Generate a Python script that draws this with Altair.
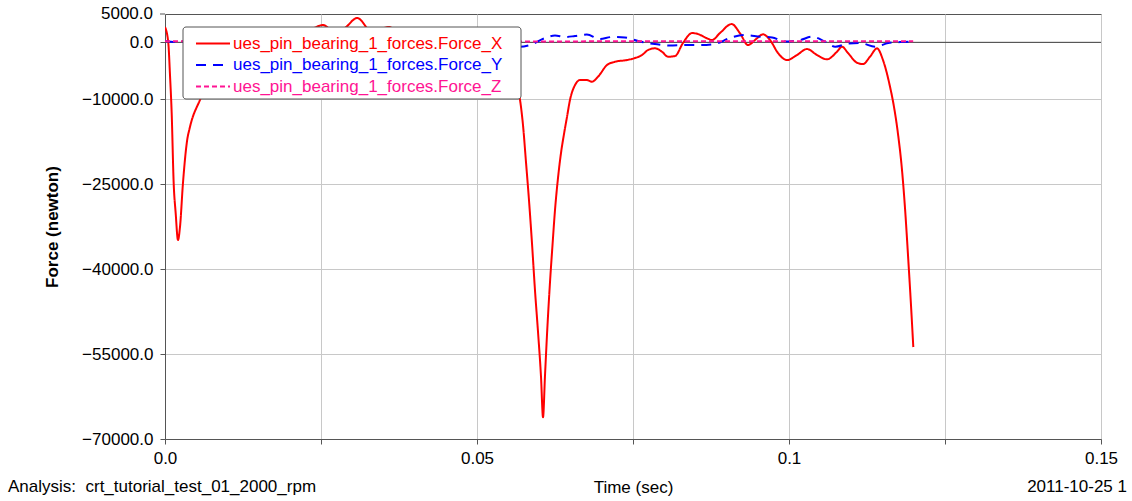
import altair as alt
import pandas as pd

# Pin bearing force components over time
SERIES = [
    "ues_pin_bearing_1_forces.Force_X",
    "ues_pin_bearing_1_forces.Force_Y",
    "ues_pin_bearing_1_forces.Force_Z",
]
COLORS = ["#FF0000", "#0000FF", "#FF1493"]
DASHES = [[1, 0], [10, 7], [5, 3]]

# Force_X: time (sec), force (newton)
fx_time = [
    0.0, 0.00053, 0.0008, 0.00107, 0.00139, 0.00171, 0.00208, 0.0024, 0.00288, 0.00353,
    0.0040, 0.0056, 0.008, 0.0112, 0.0152, 0.020, 0.0232, 0.0253, 0.0272, 0.0288,
    0.0308, 0.0332, 0.0359, 0.0385, 0.0417, 0.0449, 0.0489, 0.0521, 0.0545, 0.0561,
    0.0569, 0.05737, 0.05785, 0.05833, 0.05881, 0.05929, 0.05978, 0.06026, 0.06058,
    0.0609, 0.0613, 0.0617, 0.0621, 0.0625, 0.06298, 0.06346, 0.06394, 0.06442, 0.0649,
    0.06571, 0.06651, 0.06763, 0.06843, 0.06939, 0.07083, 0.07212, 0.07404, 0.07532, 0.07644,
    0.0774, 0.07853, 0.07965, 0.08061, 0.08173, 0.08301, 0.08446, 0.08542, 0.08686, 0.08766,
    0.08894, 0.09082, 0.09215, 0.09343, 0.09455, 0.09583, 0.09696, 0.09824, 0.09968, 0.10128,
    0.10288, 0.10449, 0.10609, 0.10769, 0.10849, 0.10946, 0.1109, 0.11186, 0.11298, 0.1141,
    0.11506, 0.11619, 0.11683, 0.11747, 0.11811, 0.11859, 0.11907, 0.11955, 0.11992,
]
fx_force = [
    2700, -120, -5770, -12480, -24830, -30130, -34890, -32600, -24830, -17420,
    -14950, -10180, -4890, -1360, 400, 1290, 2170, 3050, 1820, 2520,
    4290, 1820, 2700, 760, 2170, 400, 1640, 400, -2240, -6300,
    -10180, -14590, -21130, -27830, -35420, -43720, -51130, -59070, -66140,
    -58720, -49890, -42310, -35780, -29600, -23950, -19540, -16190, -13180, -10180,
    -7540, -6650, -6650, -6950, -6070, -4010, -3420, -3120, -2770, -2240,
    -1360, -1060, -1660, -2540, -2420, -120, 1640, 1460, 710, 410,
    1640, 3230, 1590, -480, 410, 1410, 410, -1890, -3130, -2240,
    -1180, -2240, -3000, -1660, -780, -1890, -3600, -3830, -2540, -1060,
    -3120, -7840, -11420, -16180, -22540, -29250, -37540, -46370, -53780,
]

# Force_Y
fy_time = [
    0.0, 0.0016, 0.005, 0.010, 0.015, 0.020, 0.025, 0.030, 0.035, 0.040,
    0.045, 0.050, 0.054, 0.0569, 0.0585, 0.0609, 0.0625, 0.0641, 0.0657, 0.0676,
    0.0697, 0.0716, 0.0737, 0.0761, 0.0785, 0.0809, 0.0833, 0.0857, 0.0881, 0.0905,
    0.0929, 0.0954, 0.0973, 0.0994, 0.1018, 0.1037, 0.1058, 0.1074, 0.1095, 0.1114,
    0.1138, 0.1159, 0.1178, 0.1199,
]
fy_force = [
    230, 50, 400, -300, 500, -200, 600, -400, 300, -500,
    400, -300, -700, -780, -480, 760, 1200, 940, 1110, 1380,
    580, 940, 850, 140, -300, -560, -480, -480, -300, 760,
    1290, 990, 850, 140, 410, 990, 110, -780, -210, -120,
    -780, -120, 50, 140,
]

# Force_Z
fz_time = [0.0, 0.02, 0.04, 0.06, 0.08, 0.10, 0.1199]
fz_force = [200, 150, 180, 160, 190, 170, 180]

# Axis ticks: every 7500 N, labelled every 15000 N plus zero
y_ticks = [-70000, -62500, -55000, -47500, -40000, -32500, -25000,
           -17500, -10000, -2500, 0, 5000]
y_top = 5000
x_ticks = [0.0, 0.025, 0.05, 0.075, 0.1, 0.125, 0.15]

FONT = "Liberation Sans"
FS = 17

frames = []
for name, t, f in [(SERIES[0], fx_time, fx_force),
                   (SERIES[1], fy_time, fy_force),
                   (SERIES[2], fz_time, fz_force)]:
    frames.append(pd.DataFrame({"series": name, "time": t, "force": f}))
df = pd.concat(frames, ignore_index=True)

x_enc = alt.X(
    "time:Q",
    scale=alt.Scale(domain=[0, 0.15], nice=False, zero=False),
    axis=alt.Axis(
        values=x_ticks,
        labelExpr="datum.value == 0 ? '0.0' : (abs(datum.value * 20 - round(datum.value * 20)) < 1e-6 ? format(datum.value, '~g') : '')",
        title="Time (sec)",
        titleY=48,
        titleBaseline="middle",
        labelPadding=6,
        labelOverlap=False,
        labelFlush=False,
    ),
)
y_enc = alt.Y(
    "force:Q",
    scale=alt.Scale(domain=[-70000, y_top], nice=False, zero=False),
    axis=alt.Axis(
        values=y_ticks,
        labelExpr="abs(datum.value) < 1 ? '0.0' : (abs((datum.value + 70000) % 15000) < 1 ? format(datum.value, '.1f') : '')",
        title="Force (newton)",
        titleFontWeight="bold",
        titleX=-113,
        titleY=212.5,
        titleAngle=270,
        titleBaseline="middle",
        titleAlign="center",
        labelPadding=7,
        labelOverlap=False,
        labelFlush=False,
        labelBound=False,
    ),
)

lines = alt.Chart(df).mark_line(interpolate="monotone", strokeWidth=2, clip=True).encode(
    x=x_enc,
    y=y_enc,
    color=alt.Color("series:N", scale=alt.Scale(domain=SERIES, range=COLORS), legend=None),
    strokeDash=alt.StrokeDash("series:N", scale=alt.Scale(domain=SERIES, range=DASHES), legend=None),
    detail="series:N",
)

zero_line = alt.Chart(pd.DataFrame({"v": [0]})).mark_rule(color="#404040", strokeWidth=1).encode(
    y=alt.Y("v:Q"),
)

# Top-of-range tick and label on the force axis
top_df = pd.DataFrame({"v": [y_top]})
top_tick = alt.Chart(top_df).mark_rule(color="#555555", strokeWidth=1).encode(
    y=alt.Y("v:Q"), x=alt.value(-5), x2=alt.value(0)
)
top_label = alt.Chart(top_df).mark_text(
    align="right", baseline="middle", color="#000000", font=FONT, fontSize=FS
).encode(y=alt.Y("v:Q"), x=alt.value(-12), text=alt.Text("v:Q", format=".1f"))

# Legend box with one row per series
legend_layers = [
    alt.Chart(pd.DataFrame({"a": [0]})).mark_rect(
        fill="white", stroke="#555555", strokeWidth=1, cornerRadius=3
    ).encode(x=alt.value(18), x2=alt.value(356), y=alt.value(13), y2=alt.value(85))
]
row_y = [29.5, 51, 72.5]
for name, color, dash, ry in zip(SERIES, COLORS, DASHES, row_y):
    legend_layers.append(
        alt.Chart(pd.DataFrame({"a": [0]})).mark_rule(
            color=color, strokeWidth=2, strokeDash=dash
        ).encode(x=alt.value(31), x2=alt.value(65), y=alt.value(ry))
    )
    legend_layers.append(
        alt.Chart(pd.DataFrame({"a": [0]})).mark_text(
            align="left", baseline="middle", color=color, font=FONT, fontSize=FS
        ).encode(x=alt.value(68), y=alt.value(ry), text=alt.value(name))
    )

footer_left = alt.Chart(pd.DataFrame({"a": [0]})).mark_text(
    align="left", baseline="middle", color="#000000", font=FONT, fontSize=FS
).encode(x=alt.value(-157), y=alt.value(473),
         text=alt.value("Analysis:\u00a0\u00a0crt_tutorial_test_01_2000_rpm"))

footer_right = alt.Chart(pd.DataFrame({"a": [0]})).mark_text(
    align="right", baseline="middle", color="#000000", font=FONT, fontSize=FS
).encode(x=alt.value(962), y=alt.value(473), text=alt.value("2011-10-25 1"))

chart = alt.layer(
    zero_line, lines, top_tick, top_label, *legend_layers, footer_left, footer_right
).properties(
    width=936,
    height=425,
    background="white",
    padding={"left": 165, "top": 14, "right": 31, "bottom": 62},
    autosize=alt.AutoSizeParams(type="none"),
).configure_view(
    stroke="#555555", strokeWidth=1
).configure_axis(
    labelFont=FONT,
    labelFontSize=FS,
    labelColor="#000000",
    titleFont=FONT,
    titleFontSize=FS,
    titleColor="#000000",
    titleFontWeight="normal",
    grid=True,
    gridColor="#C8C8C8",
    gridWidth=1,
    domainColor="#555555",
    tickColor="#555555",
    tickSize=5,
)

chart.save("out.html", embed_options={"renderer": "svg", "actions": False})
